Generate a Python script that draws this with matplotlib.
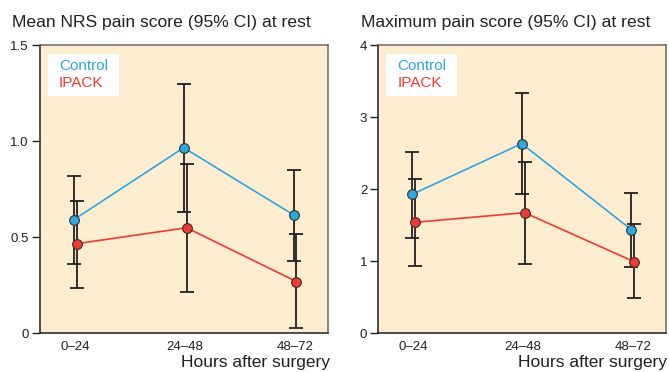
import numpy as np
import matplotlib.pyplot as plt
from matplotlib.patches import Rectangle

plt.rcParams['font.family'] = ['Liberation Sans', 'DejaVu Sans']

# --- data ---
periods = ["0\u201324", "24\u201348", "48\u201372"]
groups = ["Control", "IPACK"]

# mean NRS pain score (95% CI)
mean_ctrl = [0.59, 0.965, 0.615]
mean_ctrl_lo = [0.36, 0.63, 0.375]
mean_ctrl_hi = [0.82, 1.295, 0.85]
mean_ipack = [0.465, 0.548, 0.268]
mean_ipack_lo = [0.233, 0.212, 0.024]
mean_ipack_hi = [0.69, 0.88, 0.514]

# maximum pain score (95% CI)
max_ctrl = [1.925, 2.63, 1.435]
max_ctrl_lo = [1.32, 1.93, 0.92]
max_ctrl_hi = [2.52, 3.33, 1.95]
max_ipack = [1.537, 1.671, 0.99]
max_ipack_lo = [0.93, 0.96, 0.48]
max_ipack_hi = [2.14, 2.38, 1.51]

BLUE = "#2aa8e0"
RED = "#ee3a36"
BG = "#feedd0"
DARK = "#231f20"


def draw_panel(ax, ctrl, ctrl_lo, ctrl_hi, ipack, ipack_lo, ipack_hi, ymax, yticks, yticklabels):
    x = np.arange(len(periods))
    off = 0.013
    ax.set_facecolor(BG)
    for xs, m, lo, hi, col in [(x - off, ctrl, ctrl_lo, ctrl_hi, BLUE),
                               (x + off, ipack, ipack_lo, ipack_hi, RED)]:
        m = np.array(m)
        yerr = [m - np.array(lo), np.array(hi) - m]
        ax.plot(xs, m, color=col, lw=1.2, zorder=2)
        ax.errorbar(xs, m, yerr=yerr, fmt='none', ecolor=DARK, elinewidth=1.3,
                    capsize=5, capthick=1.3, zorder=3)
        ax.plot(xs, m, 'o', color=col, ms=7, mec="#3a2e2a", mew=0.8, zorder=4)

    ax.set_xlim(-0.32, 2.30)
    ax.set_ylim(0, ymax)
    ax.set_xticks(x)
    ax.set_xticklabels(periods, fontsize=9.5, color=DARK)
    ax.set_yticks(yticks)
    ax.set_yticklabels(yticklabels, fontsize=9.5, color=DARK)
    ax.tick_params(axis='x', length=0, pad=6)
    ax.tick_params(axis='y', length=6, width=1, color=DARK, pad=2)
    for s in ['left', 'bottom']:
        ax.spines[s].set_color(DARK)
        ax.spines[s].set_linewidth(1.1)
    for s in ['top', 'right']:
        ax.spines[s].set_color("#6d6660")
        ax.spines[s].set_linewidth(1.1)

    # white key box with coloured group names
    ax.add_patch(Rectangle((0.028, 0.823), 0.2465, 0.146, transform=ax.transAxes,
                           facecolor='white', edgecolor='none', zorder=5))
    for name, col, yb in zip(groups, [BLUE, RED], [0.912, 0.853]):
        ax.text(0.066, yb, name, color=col, fontsize=11, transform=ax.transAxes,
                ha='left', va='baseline', zorder=6)


fig = plt.figure(figsize=(6.69, 3.72), dpi=100)
ax1 = fig.add_axes([40 / 669, 1 - 333 / 372, 288 / 669, 288 / 372])
ax2 = fig.add_axes([378.3 / 669, 1 - 333 / 372, 287.4 / 669, 288 / 372])

draw_panel(ax1, mean_ctrl, mean_ctrl_lo, mean_ctrl_hi, mean_ipack, mean_ipack_lo, mean_ipack_hi,
           1.5, [0, 0.5, 1.0, 1.5], ["0", "0.5", "1.0", "1.5"])
draw_panel(ax2, max_ctrl, max_ctrl_lo, max_ctrl_hi, max_ipack, max_ipack_lo, max_ipack_hi,
           4, [0, 1, 2, 3, 4], ["0", "1", "2", "3", "4"])

fig.text(12 / 669, 1 - 27 / 372, "Mean NRS pain score (95% CI) at rest", fontsize=12.6,
         color=DARK, ha='left', va='baseline')
fig.text(361 / 669, 1 - 27 / 372, "Maximum pain score (95% CI) at rest", fontsize=12.6,
         color=DARK, ha='left', va='baseline')
# axis label sits low, as in the original, but kept fully inside the canvas
for xr in [330 / 669, 667 / 669]:
    fig.text(xr, 1 - 367 / 372, "Hours after surgery", fontsize=12.5, color=DARK,
             ha='right', va='baseline')

fig.savefig("out.png", dpi=100)
